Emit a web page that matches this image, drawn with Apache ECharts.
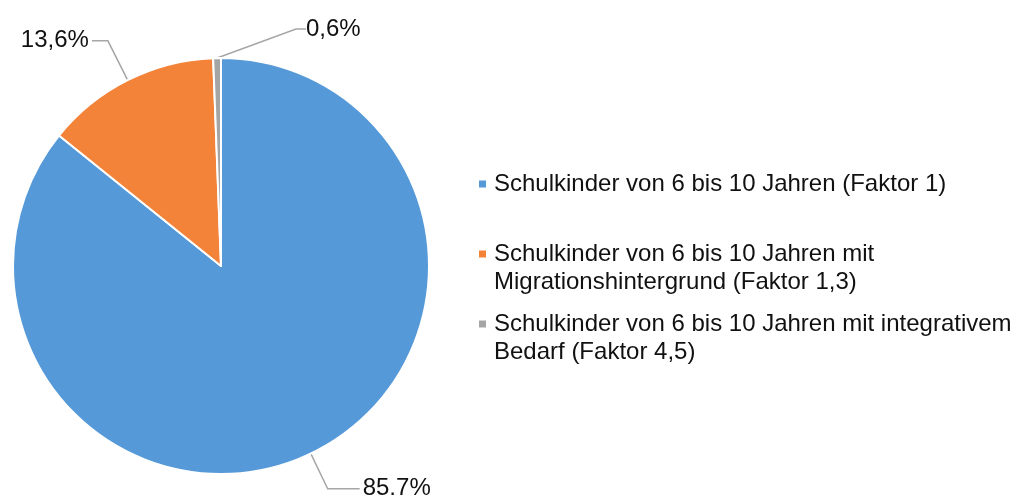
<!DOCTYPE html>
<html>
<head>
<meta charset="utf-8">
<script src="https://cdn.jsdelivr.net/npm/echarts@6/dist/echarts.min.js"></script>
<style>
  html, body { margin: 0; padding: 0; background: #fff; }
  #chart { width: 1014px; height: 495px; }
</style>
</head>
<body>
<div id="chart"></div>
<script>
// Kategorien und Anteile (in %)
var categories = [
	'Schulkinder von 6 bis 10 Jahren (Faktor 1)',
	'Schulkinder von 6 bis 10 Jahren mit Migrationshintergrund (Faktor 1,3)',
	'Schulkinder von 6 bis 10 Jahren mit integrativem Bedarf (Faktor 4,5)'
];
var shares = [85.7, 13.6, 0.6];
// Legendentexte mit Zeilenumbruch wie im Original
var legendLines = [
	'Schulkinder von 6 bis 10 Jahren (Faktor 1)',
	'Schulkinder von 6 bis 10 Jahren mit\nMigrationshintergrund (Faktor 1,3)',
	'Schulkinder von 6 bis 10 Jahren mit integrativem\nBedarf (Faktor 4,5)'
];
var colors = ['#5599d8', '#f4833a', '#a5a5a5'];

var FONT = 'Liberation Sans, Arial, sans-serif';

window.onload = function() {
	var chart = echarts.init(document.getElementById('chart'));

	// Legende: je Eintrag eine eigene Legende, damit die Abstände stimmen
	var legendTops = [170, 212, 282];
	var legends = categories.map(function(name, i) {
		var twoLines = legendLines[i].indexOf('\n') >= 0;
		return {
			orient: 'vertical',
			left: 479,
			top: legendTops[i],
			padding: 0,
			icon: 'rect',
			itemWidth: 7,
			itemHeight: 7,
			itemStyle: { borderWidth: 0 },
			selectedMode: false,
			data: [name],
			// leere erste Zeile, damit das Symbol auf Höhe der ersten Textzeile steht
			formatter: function() { return twoLines ? '\n' + legendLines[i] : legendLines[i]; },
			textStyle: {
				fontFamily: FONT,
				fontSize: 24,
				lineHeight: 28,
				color: '#111',
				padding: [0, 0, 0, 3]
			}
		};
	});

	var lineLens = [[39, 32], [44, 16], [10, 10]];

	var option = {
		backgroundColor: '#fff',
		animation: false,
		legend: legends,
		series: [{
			type: 'pie',
			center: [221, 266],
			radius: 208,
			startAngle: 90,
			clockwise: true,
			avoidLabelOverlap: false,
			itemStyle: {
				borderColor: '#fff',
				borderWidth: 2
			},
			label: {
				show: true,
				position: 'outside',
				fontFamily: FONT,
				fontSize: 24,
				color: '#111',
				distanceToLabelLine: 3,
				formatter: function(p) {
					return p.value.toFixed(1).replace('.', ',') + '%';
				}
			},
			labelLine: {
				show: true,
				lineStyle: { color: '#a6a6a6', width: 1.5 }
			},
			// kleines Segment: Beschriftung rechts oben wie im Original
			labelLayout: function(p) {
				if (p.dataIndex === 2) {
					return {
						x: p.rect.x + p.rect.width + 79,
						y: p.rect.y - 28,
						align: 'left',
						verticalAlign: 'middle'
					};
				}
			},
			data: categories.map(function(name, i) {
				var item = {
					name: name,
					value: shares[i],
					itemStyle: { color: colors[i] },
					labelLine: { length: lineLens[i][0], length2: lineLens[i][1] }
				};
				if (i === 2) {
					item.label = { padding: [0, 0, 0, 5] };
				}
				return item;
			})
		}]
	};

	chart.setOption(option);
};
</script>
</body>
</html>
